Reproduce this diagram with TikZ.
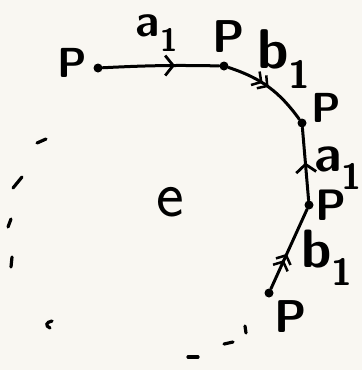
\documentclass[tikz,border=0pt]{standalone}
\usepackage{fontspec}
\usetikzlibrary{arrows.meta,decorations.markings}
\definecolor{paper}{HTML}{F9F7F2}
\begin{document}
\begin{tikzpicture}[x=1pt,y=-1pt,
  ink/.style={line width=3pt, line cap=round, black},
  vtx/.style={circle, fill=black, inner sep=0pt, minimum size=9pt},
  lbl/.style={font=\fontsize{42}{42}\selectfont\sffamily\bfseries, inner sep=0pt},
  onetip/.style={postaction={decorate}, decoration={markings,
     mark=at position #1 with {\arrow[line width=2.8pt]{Straight Barb[length=8pt,width=20pt]}}}},
  twotip/.style={postaction={decorate}, decoration={markings,
     mark=at position #1 with {\arrow[line width=2.5pt]{Straight Barb[length=7pt,width=16pt]}},
     mark=at position #1+0.08 with {\arrow[line width=2.5pt]{Straight Barb[length=7pt,width=16pt]}}}},
  gapmark/.style={line width=3.2pt, line cap=round}
]
\fill[paper] (0,0) rectangle (362,370);
\useasboundingbox (0,0) rectangle (362,370);

% vertices
\node[vtx] (p1) at (98,68) {};
\node[vtx] (p2) at (224,66) {};
\node[vtx] (p3) at (302,123) {};
\node[vtx] (p4) at (309,205) {};
\node[vtx] (p5) at (269,293) {};

% edges
\draw[ink, onetip=0.62] (p1) to[bend left=2] (p2);
\draw[ink, twotip=0.42] (p2) to[bend left=18] (p3);
\draw[ink, onetip=0.52] (p4) -- (p3);
\draw[ink, twotip=0.36] (p5) -- (p4);

% labels
\node[lbl] (l1) at (72,63) {P};
\node[lbl, font=\fontsize{46}{46}\selectfont\sffamily\bfseries] (l2) at (229,37) {P};
\node[lbl] (l3) at (326,108) {P};
\node[lbl, font=\fontsize{44}{44}\selectfont\sffamily\bfseries] (l4) at (331,205) {P};
\node[lbl, font=\fontsize{46}{46}\selectfont\sffamily\bfseries] (l5) at (291,317) {P};
\node[lbl, font=\fontsize{46}{46}\selectfont\sffamily\bfseries] (ea) at (157,33) {a\textsubscript{1}};
\node[lbl, font=\fontsize{56}{56}\selectfont\sffamily\bfseries] (eb) at (284,59) {b\textsubscript{1}};
\node[lbl, font=\fontsize{52}{52}\selectfont\sffamily\bfseries] (ea2) at (338,168) {a\textsubscript{1}};
\node[lbl, font=\fontsize{54}{54}\selectfont\sffamily\bfseries] (eb2) at (327,258) {b\textsubscript{1}};
\node[lbl, font=\fontsize{66}{66}\selectfont\sffamily] (face) at (170,202) {e};

% dashed boundary
\draw[gapmark] (37,143) -- (46,139);
\draw[gapmark] (13,188) -- (22,177);
\draw[gapmark] (8,227) -- (11,219);
\draw[gapmark] (11,267) -- (12,257);
\draw[gapmark] (52,321) .. controls (46,322) and (45,326) .. (50,328);
\draw[gapmark] (188,357) -- (198,357);
\draw[gapmark] (224,344) -- (233,342);
\draw[gapmark] (245,326) -- (246,333);
\end{tikzpicture}
\end{document}
